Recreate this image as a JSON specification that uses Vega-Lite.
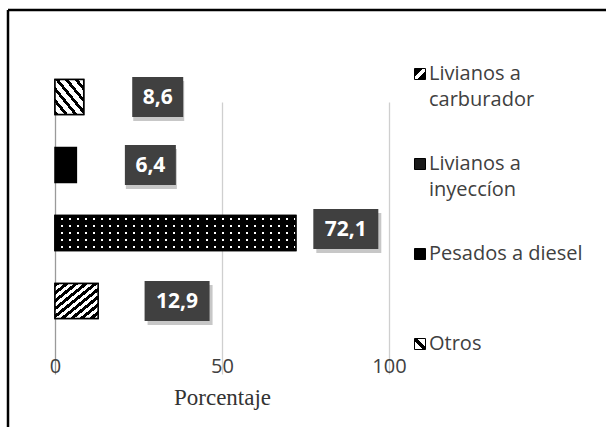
{
  "$schema": "https://vega.github.io/schema/vega-lite/v6.json",
  "width": 598,
  "height": 417,
  "autosize": {"type": "none"},
  "padding": {"left": 8, "top": 10, "right": 0, "bottom": 0},
  "background": "white",
  "config": {
    "view": {"stroke": "#000000", "strokeWidth": 2.5, "strokeDash": [598, 1015, 417, 0]},
    "locale": {"number": {"decimal": ",", "thousands": ".", "grouping": [3], "currency": ["", " €"]}}
  },
  "data": {"values": [
    {"tipo": "Otros", "valor": 8.6},
    {"tipo": "Pesados a diesel", "valor": 6.4},
    {"tipo": "Livianos a inyeccíon", "valor": 72.1},
    {"tipo": "Livianos a carburador", "valor": 12.9}
  ]},
  "encoding": {
    "y": {"field": "tipo", "type": "nominal", "scale": {"domain": ["Otros", "Pesados a diesel", "Livianos a inyeccíon", "Livianos a carburador"], "range": [53, 325], "paddingInner": 0.485, "paddingOuter": 0.243}, "axis": null},
    "x": {"field": "valor", "type": "quantitative", "scale": {"domain": [0, 100], "range": [47, 381]},
      "axis": {"orient": "bottom", "offset": -92, "domain": false, "ticks": false, "tickSize": 0, "values": [0, 50, 100], "labelFlush": false,
        "grid": true, "gridColor": {"condition": {"test": "datum.value === 0", "value": "#9a9a9a"}, "value": "#cfcfcf"}, "gridWidth": 1.3, "zindex": 0,
        "labelFont": "Open Sans", "labelFontSize": 20, "labelColor": "#404040", "labelPadding": 21,
        "title": "Porcentaje", "titleFont": "Liberation Serif", "titleFontSize": 23, "titleFontWeight": "normal", "titleColor": "#333333", "titlePadding": 10}}
  },
  "layer": [
    {
      "mark": {"type": "bar", "stroke": "#000000", "strokeWidth": 1.5},
      "encoding": {
        "fill": {"field": "tipo", "type": "nominal",
          "scale": {"domain": ["Livianos a carburador", "Livianos a inyeccíon", "Pesados a diesel", "Otros"],
            "range": [
              {"expr": "{gradient: 'linear', x1: 0, y1: 0, x2: 1, y2: 1, stops: [{offset: 0, color: '#000'}, {offset: 0.4, color: '#000'}, {offset: 0.4, color: '#fff'}, {offset: 0.6, color: '#fff'}, {offset: 0.6, color: '#000'}, {offset: 1, color: '#000'}]}"},
              "#1a1a1a",
              "#000000",
              {"expr": "{gradient: 'linear', x1: 0, y1: 1, x2: 1, y2: 0, stops: [{offset: 0, color: '#fff'}, {offset: 0.4, color: '#fff'}, {offset: 0.4, color: '#000'}, {offset: 0.6, color: '#000'}, {offset: 0.6, color: '#fff'}, {offset: 1, color: '#fff'}]}"}
            ]},
          "legend": {"orient": "none", "legendX": 402, "legendY": 54, "direction": "vertical", "title": null,
            "symbolType": "square", "symbolSize": 121, "symbolStrokeColor": "#000000", "symbolStrokeWidth": 1,
            "labelFont": "Open Sans", "labelFontSize": 20, "labelColor": "#404040", "labelOffset": -1, "labelLimit": 0,
            "labelBaseline": "top", "rowPadding": 44, "gridAlign": "all",
            "labelExpr": "indexof(datum.label, 'Livianos a ') === 0 ? ['Livianos a', substring(datum.label, 11)] : datum.label",
            "encode": {
              "labels": {"update": {"dy": {"value": -10}, "lineHeight": {"value": 26}}},
              "symbols": {"update": {"stroke": {"value": "#000000"}, "strokeWidth": {"value": 1}}}
            }
          }
        }
      }
    },
    {
      "transform": [{"filter": "datum.tipo === 'Otros'"}],
      "mark": {"type": "bar", "stroke": "#000000", "strokeWidth": 1.5,
        "fill": {"gradient": "linear", "x1": 0, "y1": 1, "x2": 1, "y2": 0, "stops": [
          {"offset": 0, "color": "#000"}, {"offset": 0.065, "color": "#000"}, {"offset": 0.065, "color": "#fff"}, {"offset": 0.1667, "color": "#fff"},
          {"offset": 0.1667, "color": "#000"}, {"offset": 0.2317, "color": "#000"}, {"offset": 0.2317, "color": "#fff"}, {"offset": 0.3333, "color": "#fff"},
          {"offset": 0.3333, "color": "#000"}, {"offset": 0.3983, "color": "#000"}, {"offset": 0.3983, "color": "#fff"}, {"offset": 0.5, "color": "#fff"},
          {"offset": 0.5, "color": "#000"}, {"offset": 0.565, "color": "#000"}, {"offset": 0.565, "color": "#fff"}, {"offset": 0.6667, "color": "#fff"},
          {"offset": 0.6667, "color": "#000"}, {"offset": 0.7317, "color": "#000"}, {"offset": 0.7317, "color": "#fff"}, {"offset": 0.8333, "color": "#fff"},
          {"offset": 0.8333, "color": "#000"}, {"offset": 0.8983, "color": "#000"}, {"offset": 0.8983, "color": "#fff"}, {"offset": 1, "color": "#fff"}
        ]}}
    },
    {
      "transform": [{"filter": "datum.tipo === 'Livianos a carburador'"}],
      "mark": {"type": "bar", "stroke": "#000000", "strokeWidth": 1.5,
        "fill": {"gradient": "linear", "x1": 0, "y1": 0, "x2": 1, "y2": 1, "stops": [
          {"offset": 0, "color": "#000"}, {"offset": 0.0556, "color": "#000"}, {"offset": 0.0556, "color": "#fff"}, {"offset": 0.1111, "color": "#fff"},
          {"offset": 0.1111, "color": "#000"}, {"offset": 0.1667, "color": "#000"}, {"offset": 0.1667, "color": "#fff"}, {"offset": 0.2222, "color": "#fff"},
          {"offset": 0.2222, "color": "#000"}, {"offset": 0.2778, "color": "#000"}, {"offset": 0.2778, "color": "#fff"}, {"offset": 0.3333, "color": "#fff"},
          {"offset": 0.3333, "color": "#000"}, {"offset": 0.3889, "color": "#000"}, {"offset": 0.3889, "color": "#fff"}, {"offset": 0.4444, "color": "#fff"},
          {"offset": 0.4444, "color": "#000"}, {"offset": 0.5, "color": "#000"}, {"offset": 0.5, "color": "#fff"}, {"offset": 0.5556, "color": "#fff"},
          {"offset": 0.5556, "color": "#000"}, {"offset": 0.6111, "color": "#000"}, {"offset": 0.6111, "color": "#fff"}, {"offset": 0.6667, "color": "#fff"},
          {"offset": 0.6667, "color": "#000"}, {"offset": 0.7222, "color": "#000"}, {"offset": 0.7222, "color": "#fff"}, {"offset": 0.7778, "color": "#fff"},
          {"offset": 0.7778, "color": "#000"}, {"offset": 0.8333, "color": "#000"}, {"offset": 0.8333, "color": "#fff"}, {"offset": 0.8889, "color": "#fff"},
          {"offset": 0.8889, "color": "#000"}, {"offset": 0.9444, "color": "#000"}, {"offset": 0.9444, "color": "#fff"}, {"offset": 1, "color": "#fff"}
        ]}}
    },
    {
      "transform": [{"filter": "datum.tipo === 'Livianos a inyeccíon'"}],
      "mark": {"type": "bar", "stroke": "#000000", "strokeWidth": 1.5,
        "fill": {"gradient": "linear", "x1": 0, "y1": 0, "x2": 1, "y2": 0, "stops": [
          {"offset": 0, "color": "#000"}, {"offset": 0.025, "color": "#000"}, {"offset": 0.025, "color": "#fff"}, {"offset": 0.03333, "color": "#fff"},
          {"offset": 0.03333, "color": "#000"}, {"offset": 0.05833, "color": "#000"}, {"offset": 0.05833, "color": "#fff"}, {"offset": 0.06667, "color": "#fff"},
          {"offset": 0.06667, "color": "#000"}, {"offset": 0.09167, "color": "#000"}, {"offset": 0.09167, "color": "#fff"}, {"offset": 0.1, "color": "#fff"},
          {"offset": 0.1, "color": "#000"}, {"offset": 0.125, "color": "#000"}, {"offset": 0.125, "color": "#fff"}, {"offset": 0.13333, "color": "#fff"},
          {"offset": 0.13333, "color": "#000"}, {"offset": 0.15833, "color": "#000"}, {"offset": 0.15833, "color": "#fff"}, {"offset": 0.16667, "color": "#fff"},
          {"offset": 0.16667, "color": "#000"}, {"offset": 0.19167, "color": "#000"}, {"offset": 0.19167, "color": "#fff"}, {"offset": 0.2, "color": "#fff"},
          {"offset": 0.2, "color": "#000"}, {"offset": 0.225, "color": "#000"}, {"offset": 0.225, "color": "#fff"}, {"offset": 0.23333, "color": "#fff"},
          {"offset": 0.23333, "color": "#000"}, {"offset": 0.25833, "color": "#000"}, {"offset": 0.25833, "color": "#fff"}, {"offset": 0.26667, "color": "#fff"},
          {"offset": 0.26667, "color": "#000"}, {"offset": 0.29167, "color": "#000"}, {"offset": 0.29167, "color": "#fff"}, {"offset": 0.3, "color": "#fff"},
          {"offset": 0.3, "color": "#000"}, {"offset": 0.325, "color": "#000"}, {"offset": 0.325, "color": "#fff"}, {"offset": 0.33333, "color": "#fff"},
          {"offset": 0.33333, "color": "#000"}, {"offset": 0.35833, "color": "#000"}, {"offset": 0.35833, "color": "#fff"}, {"offset": 0.36667, "color": "#fff"},
          {"offset": 0.36667, "color": "#000"}, {"offset": 0.39167, "color": "#000"}, {"offset": 0.39167, "color": "#fff"}, {"offset": 0.4, "color": "#fff"},
          {"offset": 0.4, "color": "#000"}, {"offset": 0.425, "color": "#000"}, {"offset": 0.425, "color": "#fff"}, {"offset": 0.43333, "color": "#fff"},
          {"offset": 0.43333, "color": "#000"}, {"offset": 0.45833, "color": "#000"}, {"offset": 0.45833, "color": "#fff"}, {"offset": 0.46667, "color": "#fff"},
          {"offset": 0.46667, "color": "#000"}, {"offset": 0.49167, "color": "#000"}, {"offset": 0.49167, "color": "#fff"}, {"offset": 0.5, "color": "#fff"},
          {"offset": 0.5, "color": "#000"}, {"offset": 0.525, "color": "#000"}, {"offset": 0.525, "color": "#fff"}, {"offset": 0.53333, "color": "#fff"},
          {"offset": 0.53333, "color": "#000"}, {"offset": 0.55833, "color": "#000"}, {"offset": 0.55833, "color": "#fff"}, {"offset": 0.56667, "color": "#fff"},
          {"offset": 0.56667, "color": "#000"}, {"offset": 0.59167, "color": "#000"}, {"offset": 0.59167, "color": "#fff"}, {"offset": 0.6, "color": "#fff"},
          {"offset": 0.6, "color": "#000"}, {"offset": 0.625, "color": "#000"}, {"offset": 0.625, "color": "#fff"}, {"offset": 0.63333, "color": "#fff"},
          {"offset": 0.63333, "color": "#000"}, {"offset": 0.65833, "color": "#000"}, {"offset": 0.65833, "color": "#fff"}, {"offset": 0.66667, "color": "#fff"},
          {"offset": 0.66667, "color": "#000"}, {"offset": 0.69167, "color": "#000"}, {"offset": 0.69167, "color": "#fff"}, {"offset": 0.7, "color": "#fff"},
          {"offset": 0.7, "color": "#000"}, {"offset": 0.725, "color": "#000"}, {"offset": 0.725, "color": "#fff"}, {"offset": 0.73333, "color": "#fff"},
          {"offset": 0.73333, "color": "#000"}, {"offset": 0.75833, "color": "#000"}, {"offset": 0.75833, "color": "#fff"}, {"offset": 0.76667, "color": "#fff"},
          {"offset": 0.76667, "color": "#000"}, {"offset": 0.79167, "color": "#000"}, {"offset": 0.79167, "color": "#fff"}, {"offset": 0.8, "color": "#fff"},
          {"offset": 0.8, "color": "#000"}, {"offset": 0.825, "color": "#000"}, {"offset": 0.825, "color": "#fff"}, {"offset": 0.83333, "color": "#fff"},
          {"offset": 0.83333, "color": "#000"}, {"offset": 0.85833, "color": "#000"}, {"offset": 0.85833, "color": "#fff"}, {"offset": 0.86667, "color": "#fff"},
          {"offset": 0.86667, "color": "#000"}, {"offset": 0.89167, "color": "#000"}, {"offset": 0.89167, "color": "#fff"}, {"offset": 0.9, "color": "#fff"},
          {"offset": 0.9, "color": "#000"}, {"offset": 0.925, "color": "#000"}, {"offset": 0.925, "color": "#fff"}, {"offset": 0.93333, "color": "#fff"},
          {"offset": 0.93333, "color": "#000"}, {"offset": 0.95833, "color": "#000"}, {"offset": 0.95833, "color": "#fff"}, {"offset": 0.96667, "color": "#fff"},
          {"offset": 0.96667, "color": "#000"}, {"offset": 0.99167, "color": "#000"}, {"offset": 0.99167, "color": "#fff"}, {"offset": 1, "color": "#fff"}
        ]}}
    },
    {
      "transform": [{"filter": "datum.tipo === 'Livianos a inyeccíon'"}],
      "mark": {"type": "bar", "strokeWidth": 0,
        "fill": {"gradient": "linear", "x1": 0, "y1": 0, "x2": 0, "y2": 1, "stops": [
          {"offset": 0, "color": "#000"}, {"offset": 0.075, "color": "#000"}, {"offset": 0.075, "color": "rgba(0,0,0,0)"}, {"offset": 0.125, "color": "rgba(0,0,0,0)"},
          {"offset": 0.125, "color": "#000"}, {"offset": 0.275, "color": "#000"}, {"offset": 0.275, "color": "rgba(0,0,0,0)"}, {"offset": 0.325, "color": "rgba(0,0,0,0)"},
          {"offset": 0.325, "color": "#000"}, {"offset": 0.475, "color": "#000"}, {"offset": 0.475, "color": "rgba(0,0,0,0)"}, {"offset": 0.525, "color": "rgba(0,0,0,0)"},
          {"offset": 0.525, "color": "#000"}, {"offset": 0.675, "color": "#000"}, {"offset": 0.675, "color": "rgba(0,0,0,0)"}, {"offset": 0.725, "color": "rgba(0,0,0,0)"},
          {"offset": 0.725, "color": "#000"}, {"offset": 0.875, "color": "#000"}, {"offset": 0.875, "color": "rgba(0,0,0,0)"}, {"offset": 0.925, "color": "rgba(0,0,0,0)"},
          {"offset": 0.925, "color": "#000"}, {"offset": 1, "color": "#000"}
        ]}}
    },
    {
      "transform": [{"filter": "datum.valor < 10"}],
      "layer": [
        {"mark": {"type": "point", "shape": "M-1,-0.784H1V0.784H-1Z", "size": 2601, "filled": true, "fill": "#000000", "opacity": 0.22, "strokeWidth": 0, "xOffset": 75, "yOffset": 4}},
        {"mark": {"type": "point", "shape": "M-1,-0.784H1V0.784H-1Z", "size": 2601, "filled": true, "fill": "#404040", "opacity": 1, "strokeWidth": 0, "xOffset": 74}},
        {"mark": {"type": "text", "font": "Open Sans", "fontSize": 21, "fontWeight": "bold", "fill": "#ffffff", "align": "center", "baseline": "middle", "xOffset": 74, "yOffset": 1},
         "encoding": {"text": {"field": "valor", "type": "quantitative", "format": ".1f"}}}
      ]
    },
    {
      "transform": [{"filter": "datum.valor >= 10 && datum.valor < 50"}],
      "layer": [
        {"mark": {"type": "point", "shape": "M-1,-0.615H1V0.615H-1Z", "size": 4225, "filled": true, "fill": "#000000", "opacity": 0.22, "strokeWidth": 0, "xOffset": 82, "yOffset": 4}},
        {"mark": {"type": "point", "shape": "M-1,-0.615H1V0.615H-1Z", "size": 4225, "filled": true, "fill": "#404040", "opacity": 1, "strokeWidth": 0, "xOffset": 79}},
        {"mark": {"type": "text", "font": "Open Sans", "fontSize": 21, "fontWeight": "bold", "fill": "#ffffff", "align": "center", "baseline": "middle", "xOffset": 79, "yOffset": 1},
         "encoding": {"text": {"field": "valor", "type": "quantitative", "format": ".1f"}}}
      ]
    },
    {
      "transform": [{"filter": "datum.valor >= 50"}],
      "layer": [
        {"mark": {"type": "point", "shape": "M-1,-0.615H1V0.615H-1Z", "size": 4225, "filled": true, "fill": "#000000", "opacity": 0.22, "strokeWidth": 0, "xOffset": 53, "yOffset": 0}},
        {"mark": {"type": "point", "shape": "M-1,-0.615H1V0.615H-1Z", "size": 4225, "filled": true, "fill": "#404040", "opacity": 1, "strokeWidth": 0, "xOffset": 50, "yOffset": -4}},
        {"mark": {"type": "text", "font": "Open Sans", "fontSize": 21, "fontWeight": "bold", "fill": "#ffffff", "align": "center", "baseline": "middle", "xOffset": 50, "yOffset": -3},
         "encoding": {"text": {"field": "valor", "type": "quantitative", "format": ".1f"}}}
      ]
    }
  ]
}
